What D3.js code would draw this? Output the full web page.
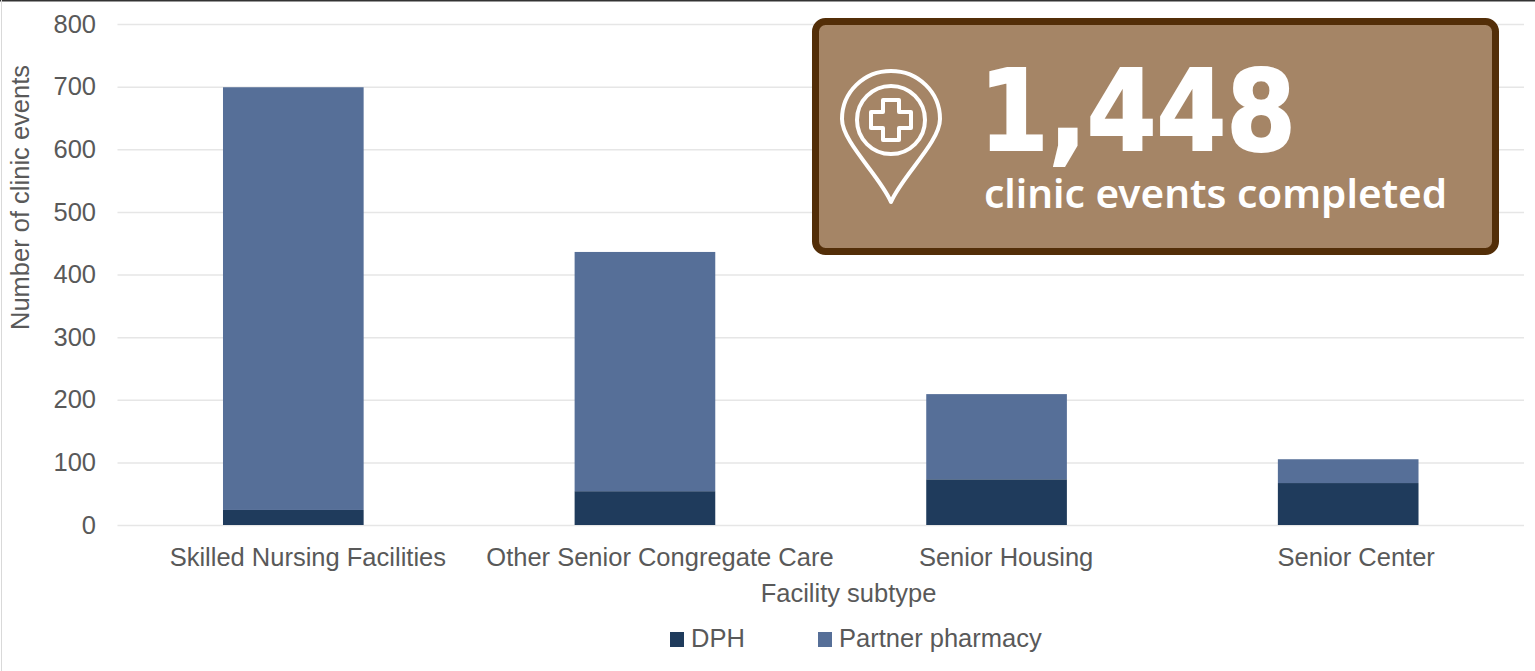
<!DOCTYPE html>
<html><head><meta charset="utf-8">
<script src="https://cdnjs.cloudflare.com/ajax/libs/d3/7.8.5/d3.min.js"></script>
<style>html,body{margin:0;padding:0;background:#fff;overflow:hidden}svg{display:block}text{font-family:"Liberation Sans",Arial,sans-serif;fill:#595959}</style>
</head><body><svg id="c" width="1535" height="671"></svg>
<script>
const categories=["Skilled Nursing Facilities","Other Senior Congregate Care","Senior Housing","Senior Center"];
const dph=[24,54,73,67];
const partner=[675,382,136,38];
const yTicks=[0,100,200,300,400,500,600,700,800];
const seriesNames=["DPH","Partner pharmacy"];
const seriesColors=["#1f3b5c","#566f98"];
const labelNudge=[14.5,15,9.5,8];

const svg=d3.select("#c");
svg.append("rect").attr("width",1535).attr("height",671).attr("fill","#fff");
svg.append("rect").attr("width",1535).attr("height",1.5).attr("fill","#333");
svg.append("rect").attr("x",1).attr("width",1).attr("height",671).attr("fill","#d9d9d9");

const x=d3.scaleBand().domain(categories).range([117.5,1524]).paddingInner(0.6).paddingOuter(0.3);
const y=d3.scaleLinear().domain([0,800]).range([525,24]);

const yAxis=d3.axisLeft(y).tickValues(yTicks).tickSize(-(1524-117.5)).tickPadding(21.5);
const gy=svg.append("g").attr("transform","translate(117.5,0)").call(yAxis);
gy.select(".domain").remove();
gy.selectAll("line").attr("stroke","#e6e6e6").attr("stroke-width",1.5);
gy.selectAll("text").style("font-size","25.5px").style("fill","#595959");

const stack=d3.stack().keys([0,1]).value((d,k)=>d[k]);
const rows=categories.map((c,i)=>Object.assign([dph[i],partner[i]],{cat:c}));
svg.append("g").selectAll("g").data(stack(rows)).join("g").attr("fill",(d,i)=>seriesColors[i])
 .selectAll("rect").data(d=>d).join("rect")
 .attr("x",d=>x(d.data.cat)).attr("width",x.bandwidth())
 .attr("y",d=>y(d[1])).attr("height",d=>y(d[0])-y(d[1]));

const xAxis=d3.axisBottom(x).tickSize(0).tickPadding(23);
const gx=svg.append("g").attr("transform","translate(0,525)").call(xAxis);
gx.select(".domain").remove();
gx.selectAll("text").style("font-size","25.5px").style("fill","#595959").attr("dx",(d,i)=>labelNudge[i]);

svg.append("text").attr("x",848.5).attr("y",602).attr("text-anchor","middle").style("font-size","25.5px").text("Facility subtype");
svg.append("text").attr("transform","translate(29,197.5) rotate(-90)").attr("text-anchor","middle").style("font-size","25.5px").text("Number of clinic events");

const legendX=[670,818];
const lg=svg.append("g").selectAll("g").data(seriesNames).join("g");
lg.append("rect").attr("x",(d,i)=>legendX[i]).attr("y",632).attr("width",14).attr("height",15).attr("fill",(d,i)=>seriesColors[i]);
lg.append("text").attr("x",(d,i)=>legendX[i]+21).attr("y",647).style("font-size","25.5px").text(d=>d);

// callout
const b=svg.append("g");
b.append("rect").attr("x",815.5).attr("y",21.5).attr("width",680).attr("height",230).attr("rx",10)
 .attr("fill","#a58566").attr("stroke","#532e08").attr("stroke-width",7);
const ic=b.append("g").attr("fill","none").attr("stroke","#fff").attr("stroke-width",4);
ic.append("path").attr("stroke-linejoin","round")
 .attr("d","M891 202 C880 176 842 142 842 119 C842 92 864 71 891 71 C918 71 940 92 940 119 C940 142 902 176 891 202 Z");
ic.append("ellipse").attr("cx",891).attr("cy",120).attr("rx",34).attr("ry",34);
ic.append("path").attr("stroke-linejoin","round").attr("d","M883 100 H899 V112 H911 V128 H899 V140 H883 V128 H871 V112 H883 Z");
b.append("text").attr("x",979).attr("y",150).attr("textLength",317).attr("lengthAdjust","spacingAndGlyphs")
 .style("fill","#fff").style("stroke","#fff").style("stroke-width",2).style("font-family","'DejaVu Sans'").style("font-weight",700).style("font-size","112px").text("1,448");
b.append("text").attr("x",984).attr("y",208).style("fill","#fff").style("font-family","'Noto Sans'").style("font-weight",600).style("font-size","40.5px").text("clinic events completed");
</script></body></html>
